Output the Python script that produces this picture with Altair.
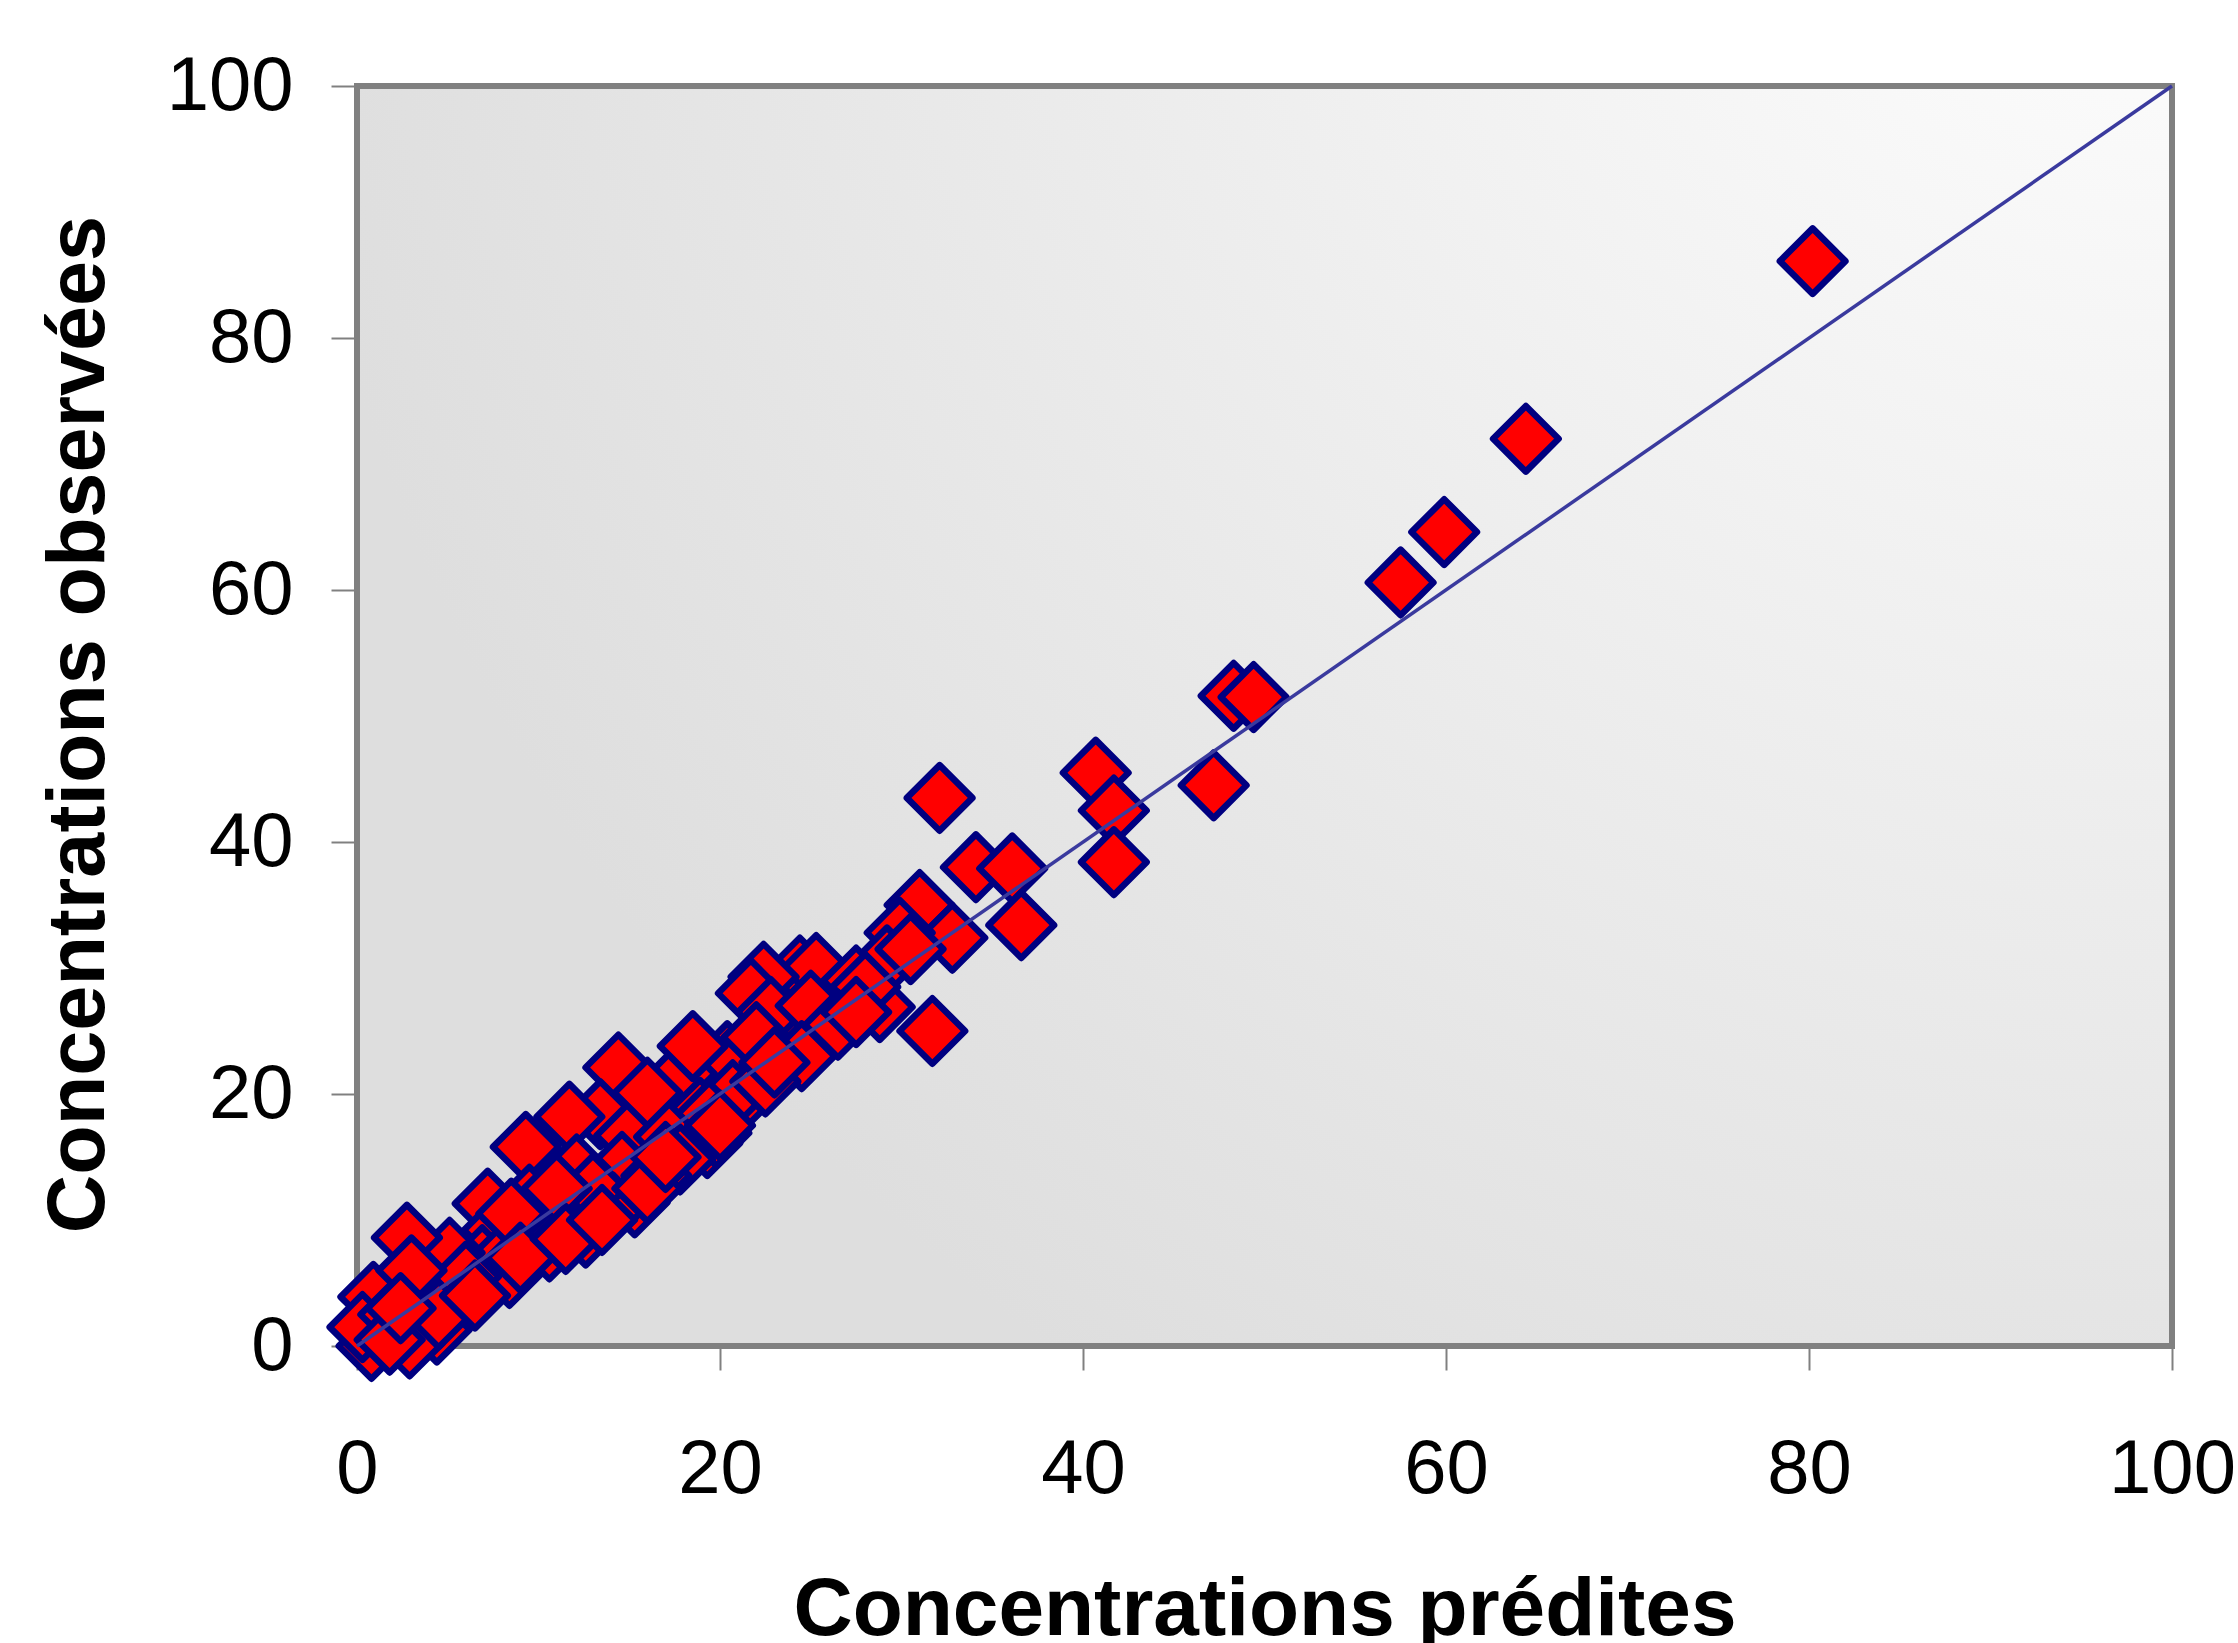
import altair as alt
import pandas as pd

predites = [
    80.2, 64.4, 59.9, 57.5, 48.3, 49.4, 47.2, 40.7, 41.7, 41.7,
    32.1, 34.1, 36.1, 36.6, 31.0, 32.8, 31.7, 29.9, 29.2, 28.8,
    26.8, 24.4, 25.3, 22.4, 21.7, 26.1, 23.8, 20.4, 17.9, 14.4,
    21.3, 20.7, 18.9, 19.4, 13.4, 11.7, 15.0, 17.2, 19.3, 19.8,
    17.8, 14.6, 12.1, 9.3, 15.3, 14.1, 10.6, 10.3, 9.5, 7.2,
    7.7, 10.6, 6.9, 7.9, 8.4, 5.1, 2.75, 3.6, 5.7, 0.9,
    1.4, 4.4, 0.8, 2.9, 0.3, 22.8, 27.5, 16.0, 12.6, 25.0,
    22.0, 16.5, 13.0, 11.0, 6.0, 2.0, 3.0, 18.5, 24.5, 28.0,
    30.5, 8.5, 4.5, 6.5, 9.0, 11.5, 13.5, 16.0, 17.0, 20.0,
    22.5, 23.0, 26.5, 27.5, 1.8, 2.4,
]
observees = [
    86.1, 72.0, 64.6, 60.6, 51.6, 51.5, 44.5, 45.5, 42.5, 38.4,
    43.5, 38.0, 37.9, 33.4, 35.0, 32.4, 25.0, 32.8, 30.6, 26.9,
    27.7, 29.8, 30.0, 29.3, 28.0, 25.9, 24.2, 23.0, 21.6, 22.1,
    19.8, 19.9, 18.5, 18.3, 18.4, 18.2, 16.7, 16.6, 16.1, 16.9,
    14.8, 14.2, 14.0, 15.8, 11.4, 11.0, 9.5, 9.5, 11.6, 11.3,
    9.2, 7.9, 6.8, 6.8, 5.8, 7.4, 8.6, 4.2, 3.7, 3.9,
    1.0, 1.3, 0.0, 0.2, 1.5, 26.5, 29.0, 20.1, 9.0, 27.0,
    24.5, 13.5, 12.5, 12.5, 5.5, 2.5, 6.0, 23.8, 23.0, 28.5,
    31.5, 10.5, 2.5, 4.0, 7.0, 8.5, 10.0, 12.5, 15.0, 17.5,
    21.0, 22.5, 25.5, 26.5, 0.5, 3.0,
]

axis_ticks = [0, 20, 40, 60, 80, 100]
diag_x = [0, 100]
diag_y = [0, 100]

pts = pd.DataFrame({"x": predites, "y": observees})
diag = pd.DataFrame({"x": diag_x, "y": diag_y})
frame = pd.DataFrame({"x": [0], "x2": [100], "y": [0], "y2": [100]})

FONT = "Liberation Sans"
W, H = 1815, 1260

xscale = alt.Scale(domain=[0, 100], nice=False, zero=False)
yscale = alt.Scale(domain=[0, 100], nice=False, zero=False)

xaxis = alt.Axis(
    values=axis_ticks, grid=False, domain=False,
    tickColor="#808080", tickSize=24, tickWidth=2,
    labelFont=FONT, labelFontSize=76, labelColor="black",
    labelBaseline="alphabetic", labelPadding=122, labelFlush=False, labelOverlap=False,
    title="Concentrations prédites", titleFont=FONT, titleFontSize=82,
    titleFontWeight="bold", titleColor="black",
    titleBaseline="alphabetic", titleY=288, titleX=W / 2, titleAlign="center",
)
yaxis = alt.Axis(
    values=axis_ticks, grid=False, domain=False,
    tickColor="#808080", tickSize=26, tickWidth=2,
    labelFont=FONT, labelFontSize=76, labelColor="black",
    labelPadding=38, labelFlush=False, labelOverlap=False,
    title="Concentrations observées", titleFont=FONT, titleFontSize=81,
    titleFontWeight="bold", titleColor="black",
    titleAngle=270, titleBaseline="alphabetic", titleX=-254, titleY=638,
    titleAlign="center",
)

bg = alt.Chart(frame).mark_rect(
    fill=alt.RadialGradient(
        gradient="radial", x1=1, y1=0, x2=1, y2=0, r1=0, r2=1.05,
        stops=[
            alt.GradientStop(offset=0, color="#ffffff"),
            alt.GradientStop(offset=1, color="#dedede"),
        ],
    ),
    stroke="#808080", strokeWidth=6,
).encode(
    x=alt.X("x:Q", scale=xscale, axis=xaxis),
    x2="x2:Q",
    y=alt.Y("y:Q", scale=yscale, axis=yaxis),
    y2="y2:Q",
)

points = alt.Chart(pts).mark_point(
    shape="diamond", filled=True, fill="#ff0000", stroke="#000080",
    strokeWidth=6.5, size=4300, opacity=1, fillOpacity=1, strokeOpacity=1,
    strokeJoin="round",
).encode(
    x=alt.X("x:Q", scale=xscale, axis=xaxis),
    y=alt.Y("y:Q", scale=yscale, axis=yaxis),
)

line = alt.Chart(diag).mark_line(color="#3a3a9e", strokeWidth=3.5).encode(
    x=alt.X("x:Q", scale=xscale, axis=xaxis),
    y=alt.Y("y:Q", scale=yscale, axis=yaxis),
)

chart = alt.layer(bg, points, line).properties(
    width=W, height=H,
    autosize=alt.AutoSizeParams(type="none"),
    padding={"left": 357, "top": 86, "right": 66, "bottom": 297},
    background="white",
).configure_view(stroke=None)

chart.save("out.html", embed_options={"renderer": "svg", "actions": False})
